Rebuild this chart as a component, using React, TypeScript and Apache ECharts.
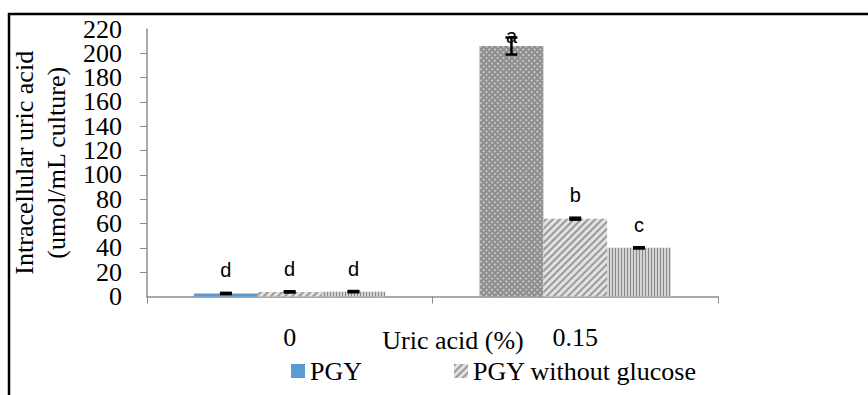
import React, { useEffect, useRef } from "react";
import * as echarts from "echarts";

const categories = ["0", "0.15"];
const seriesNames = ["PGY", "PGY without glucose", "PGY + uric acid"];
const pgy = [2.5, 206];
const pgyNoGlucose = [3.8, 64];
const thirdSeries = [4, 40];
const errPgy = [0.5, 7];
const errNoGlucose = [0.5, 0.8];
const errThird = [0.5, 0.5];
const lettersPgy = ["d", "a"];
const lettersNoGlucose = ["d", "b"];
const lettersThird = ["d", "c"];
const labelDistPgy = [13, 0];
const labelDistNoGlucose = [13, 14];
const labelDistThird = [13, 13];
const yMin = 0;
const yMax = 220;
const yStep = 20;

const SERIF = "'Liberation Serif', 'Times New Roman', serif";
const SANS = "'Liberation Sans', Arial, sans-serif";
const CAT_GAP = 0.33;

const diagDecal = {
  symbol: "rect",
  symbolSize: 1,
  color: "#9a9a9a",
  dashArrayX: [1, 0],
  dashArrayY: [2, 3],
  rotation: -Math.PI / 4,
};
const vertDecal = {
  symbol: "rect",
  symbolSize: 1,
  color: "#8a8a8a",
  dashArrayX: [1, 2],
  dashArrayY: [1, 0],
};
const crossDecal = {
  symbol: "rect",
  symbolSize: 1,
  color: "#c4c4c4",
  dashArrayX: [2, 2],
  dashArrayY: [2, 2],
  rotation: Math.PI / 4,
};

export default function App() {
  const ref = useRef<HTMLDivElement>(null);
  useEffect(() => {
    if (!ref.current) return;
    const chart = echarts.init(ref.current, null, { renderer: "svg" });

    const labelStyle = {
      show: true,
      position: "top",
      color: "#000",
      fontFamily: SANS,
      fontSize: 20,
    };

    const mkData = (vals: number[], letters: string[], dists: number[], itemStyles: any[]) =>
      vals.map((v, i) => ({
        value: v,
        itemStyle: itemStyles[i],
        label: { ...labelStyle, formatter: letters[i], distance: dists[i] },
      }));

    const errData: number[][] = [];
    [errPgy, errNoGlucose, errThird].forEach((errs, s) => {
      const vals = [pgy, pgyNoGlucose, thirdSeries][s];
      errs.forEach((e, i) => errData.push([i, vals[i], e, s]));
    });

    const yLabelText = { fontFamily: SERIF, fontSize: 26, color: "#000" };

    chart.setOption({
      animation: false,
      backgroundColor: "#fff",
      grid: { left: 145, right: 150, top: 29, bottom: 98.5 },
      legend: {
        data: [seriesNames[0], seriesNames[1]],
        left: 286,
        top: 353,
        itemWidth: 14,
        itemHeight: 14,
        itemGap: 92,
        icon: "rect",
        textStyle: { fontFamily: SERIF, fontSize: 26, color: "#000" },
      },
      xAxis: {
        type: "category",
        data: categories,
        axisLine: { lineStyle: { color: "#8c8c8c", width: 1.5 } },
        axisTick: { show: true, length: 7, lineStyle: { color: "#8c8c8c" } },
        axisLabel: { fontFamily: SERIF, fontSize: 26, color: "#000", margin: 28 },
      },
      yAxis: [
        {
          type: "value",
          min: yMin,
          max: yMax,
          interval: yStep,
          name: "Intracellular uric acid\n(umol/mL culture)",
          nameLocation: "middle",
          nameGap: 60,
          nameTextStyle: { fontFamily: SERIF, fontSize: 26, color: "#000", lineHeight: 32 },
          splitLine: { show: false },
          axisLine: { show: true, lineStyle: { color: "#8c8c8c", width: 1.5 } },
          axisTick: { show: true, length: 7, lineStyle: { color: "#8c8c8c" } },
          axisLabel: {
            ...yLabelText,
            margin: 25,
            showMinLabel: false,
            showMaxLabel: false,
            hideOverlap: false,
          },
        },
        {
          type: "value",
          position: "left",
          min: yMin,
          max: yMax,
          interval: yStep,
          splitLine: { show: false },
          axisLine: { show: false },
          axisTick: { show: false },
          axisLabel: {
            ...yLabelText,
            margin: 25,
            showMinLabel: true,
            showMaxLabel: true,
            hideOverlap: false,
            formatter: (v: number) => (v === yMin || v === yMax ? String(v) : ""),
          },
        },
      ],
      graphic: [
        {
          type: "rect",
          shape: { x: 9, y: 14, width: 1000, height: 600 },
          style: { fill: "none", stroke: "#000", lineWidth: 2.5 },
          silent: true,
        },
        {
          type: "text",
          x: 453,
          y: 340,
          style: {
            text: "Uric acid (%)",
            font: `26px ${SERIF}`,
            fill: "#000",
            textAlign: "center",
            textVerticalAlign: "middle",
          },
        },
      ],
      series: [
        {
          name: seriesNames[0],
          type: "bar",
          barGap: "0%",
          barCategoryGap: "33%",
          itemStyle: { color: "#5b9bd5" },
          data: mkData(pgy, lettersPgy, labelDistPgy, [
            { color: "#5b9bd5" },
            { color: "#8e8e8e", decal: crossDecal },
          ]),
        },
        {
          name: seriesNames[1],
          type: "bar",
          barGap: "0%",
          barCategoryGap: "33%",
          itemStyle: { color: "#e2e2e2", decal: diagDecal },
          data: mkData(pgyNoGlucose, lettersNoGlucose, labelDistNoGlucose, [
            { color: "#e2e2e2", decal: diagDecal },
            { color: "#e2e2e2", decal: diagDecal },
          ]),
        },
        {
          name: seriesNames[2],
          type: "bar",
          barGap: "0%",
          barCategoryGap: "33%",
          itemStyle: { color: "#d4d4d4", decal: vertDecal },
          data: mkData(thirdSeries, lettersThird, labelDistThird, [
            { color: "#d4d4d4", decal: vertDecal },
            { color: "#d4d4d4", decal: vertDecal },
          ]),
        },
        {
          name: "error",
          type: "custom",
          z: 5,
          encode: { x: 0, y: 1 },
          data: errData,
          renderItem: (params: any, api: any) => {
            const ci = api.value(0);
            const v = api.value(1);
            const e = api.value(2);
            const s = api.value(3);
            const band = api.size([1, 0])[0];
            const bw = (band * (1 - CAT_GAP)) / 3;
            const cx = api.coord([ci, v])[0] + (s - 1) * bw;
            const yHi = api.coord([ci, v + e])[1];
            const yLo = api.coord([ci, v - e])[1];
            const hw = 6;
            const st = { stroke: "#000", lineWidth: 2.5 };
            return {
              type: "group",
              children: [
                { type: "line", shape: { x1: cx, y1: yHi, x2: cx, y2: yLo }, style: st },
                { type: "line", shape: { x1: cx - hw, y1: yHi, x2: cx + hw, y2: yHi }, style: st },
                { type: "line", shape: { x1: cx - hw, y1: yLo, x2: cx + hw, y2: yLo }, style: st },
              ],
            };
          },
        },
      ],
    });
    return () => chart.dispose();
  }, []);
  return (
    <div
      ref={ref}
      style={{ position: "fixed", left: 0, top: 0, width: 868, height: 395 }}
    />
  );
}
